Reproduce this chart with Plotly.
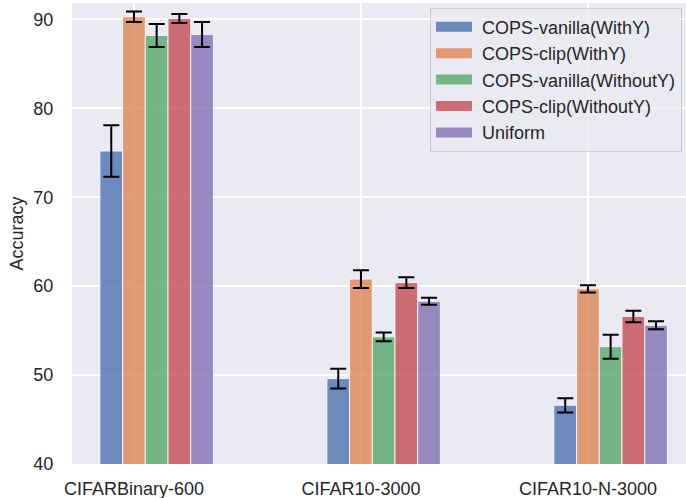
import plotly.graph_objects as go

# Datasets on the x axis
datasets = ["CIFARBinary-600", "CIFAR10-3000", "CIFAR10-N-3000"]

# Mean accuracy per method (one value per dataset)
vanilla_withy = [75.2, 49.6, 46.6]
clip_withy = [90.3, 60.8, 59.7]
vanilla_withouty = [88.2, 54.3, 53.2]
clip_withouty = [90.1, 60.4, 56.6]
uniform = [88.3, 58.3, 55.6]

# Standard deviation per method
vanilla_withy_err = [2.9, 1.1, 0.8]
clip_withy_err = [0.6, 1.0, 0.4]
vanilla_withouty_err = [1.3, 0.5, 1.35]
clip_withouty_err = [0.5, 0.6, 0.65]
uniform_err = [1.4, 0.4, 0.45]

methods = [
    ("COPS-vanilla(WithY)", vanilla_withy, vanilla_withy_err, (76, 114, 176)),
    ("COPS-clip(WithY)", clip_withy, clip_withy_err, (221, 132, 82)),
    ("COPS-vanilla(WithoutY)", vanilla_withouty, vanilla_withouty_err, (85, 168, 104)),
    ("COPS-clip(WithoutY)", clip_withouty, clip_withouty_err, (196, 78, 82)),
    ("Uniform", uniform, uniform_err, (129, 114, 179)),
]

bar_width = 0.1
offsets = [-0.1, 0.0, 0.1, 0.2, 0.3]

FONT = "Liberation Sans, Arial, sans-serif"
TEXT = "#262626"

fig = go.Figure()
for (name, vals, errs, rgb), off in zip(methods, offsets):
    fill = "rgba(%d,%d,%d,0.8)" % rgb
    fig.add_trace(go.Bar(
        name=name,
        x=[i + off for i in range(len(datasets))],
        y=vals,
        width=bar_width,
        showlegend=False,
        marker=dict(color=fill, line=dict(color="rgba(255,255,255,0.8)", width=1)),
        error_y=dict(type="data", array=errs, visible=True,
                     color="black", thickness=2, width=8),
    ))
    # wide patch-style legend key
    fig.add_trace(go.Scatter(
        name="\u00a0" + name, x=[None], y=[None], mode="lines",
        line=dict(color=fill, width=11),
        showlegend=True, hoverinfo="skip",
    ))

fig.update_layout(
    width=686,
    height=498,
    margin=dict(l=72, r=0, t=3, b=34),
    paper_bgcolor="white",
    plot_bgcolor="#EAEAF2",
    font=dict(family=FONT, size=18, color=TEXT),
    barmode="overlay",
    showlegend=True,
    legend=dict(
        x=0.583, y=0.99, xanchor="left", yanchor="top",
        bgcolor="rgba(234,234,242,0.8)",
        bordercolor="#CCCCCC", borderwidth=1,
        font=dict(family=FONT, size=18, color=TEXT),
        itemwidth=36,
    ),
    xaxis=dict(
        range=[-0.273, 2.432],
        tickmode="array",
        tickvals=list(range(len(datasets))),
        ticktext=datasets,
        showgrid=True, gridcolor="white", gridwidth=1.6,
        zeroline=False, showline=False,
        ticks="outside", ticklen=8, tickcolor="rgba(0,0,0,0)",
        tickfont=dict(family=FONT, size=18, color=TEXT),
    ),
    yaxis=dict(
        range=[40, 91.85],
        tickvals=[40, 50, 60, 70, 80, 90],
        showgrid=True, gridcolor="white", gridwidth=1.6,
        zeroline=False, showline=False,
        ticks="outside", ticklen=14, tickcolor="rgba(0,0,0,0)",
        tickfont=dict(family=FONT, size=18, color=TEXT),
        title=dict(text="Accuracy", standoff=5,
                   font=dict(family=FONT, size=18, color=TEXT)),
    ),
)

fig.write_html("out.html")
